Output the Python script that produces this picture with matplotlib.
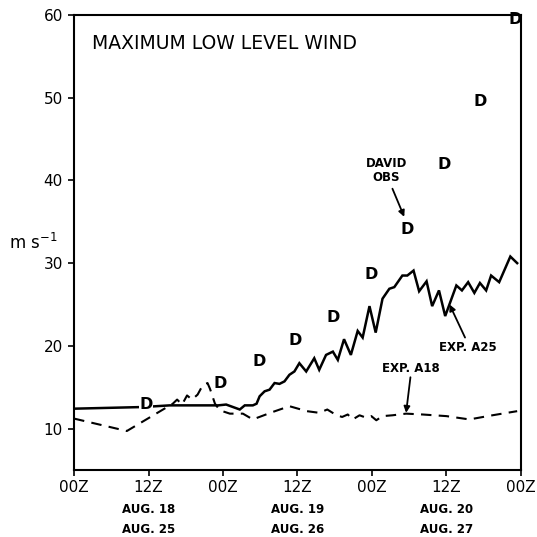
import matplotlib
matplotlib.use("Agg")
import matplotlib.pyplot as plt

# Observations of David (hours from 00Z Aug 18, m/s)
obs_hours = [11.6, 23.6, 29.9, 35.7, 41.7, 47.8, 53.7, 59.6, 65.4, 71.1]
obs_wind = [12.9, 15.5, 18.1, 20.7, 23.4, 28.6, 34.1, 41.9, 49.6, 59.5]

# Experiment A25 (solid)
a25_hours = [0.0, 11.1, 15.4, 23.2, 24.5, 26.7, 27.5, 28.8, 29.4, 29.9, 30.7, 31.5,
             32.3, 33.1, 33.9, 34.7, 35.5, 36.3, 37.4, 38.7, 39.5, 40.6, 41.7, 42.5,
             43.5, 44.6, 45.7, 46.5, 47.6, 48.6, 49.7, 50.8, 51.6, 52.9, 53.7, 54.7,
             55.6, 56.8, 57.7, 58.8, 59.8, 61.6, 62.5, 63.5, 64.5, 65.4, 66.4, 67.2,
             68.5, 70.3, 71.4]
a25_wind = [12.4, 12.6, 12.8, 12.8, 12.9, 12.3, 12.8, 12.8, 13.0, 13.9, 14.5, 14.7,
            15.5, 15.4, 15.7, 16.5, 16.9, 17.9, 16.9, 18.5, 17.1, 18.9, 19.3, 18.3,
            20.8, 18.9, 21.8, 21.0, 24.8, 21.6, 25.7, 26.9, 27.1, 28.5, 28.5, 29.1,
            26.6, 27.8, 24.8, 26.7, 23.6, 27.3, 26.7, 27.7, 26.4, 27.6, 26.7, 28.5,
            27.7, 30.8, 30.0]

# Experiment A18 (dashed)
a18_hours = [0.0, 8.5, 15.9, 16.6, 17.4, 18.2, 19.0, 19.9, 20.7, 21.5, 21.9, 22.7,
             23.5, 25.1, 27.2, 28.8, 32.0, 34.7, 37.5, 39.5, 40.8, 42.3, 43.2, 44.1,
             44.9, 46.0, 47.1, 47.9, 48.7, 49.7, 51.3, 53.5, 56.1, 60.0, 63.7, 67.4,
             71.4]
a18_wind = [11.2, 9.7, 13.0, 13.5, 12.9, 14.0, 13.5, 14.1, 15.2, 15.5, 14.8, 13.0,
            12.2, 11.8, 11.8, 11.1, 12.0, 12.7, 12.1, 11.9, 12.3, 11.6, 11.4, 11.7,
            11.1, 11.6, 11.3, 11.5, 11.0, 11.5, 11.6, 11.8, 11.7, 11.5, 11.1, 11.6,
            12.1]

x_ticks = [0, 12, 24, 36, 48, 60, 72]
x_tick_labels = ["00Z", "12Z", "00Z", "12Z", "00Z", "12Z", "00Z"]
date_positions = [12, 36, 60]
date_labels_1 = ["AUG. 18", "AUG. 19", "AUG. 20"]
date_labels_2 = ["AUG. 25", "AUG. 26", "AUG. 27"]
y_ticks = [10, 20, 30, 40, 50, 60]

plt.rcParams['font.family'] = ['DejaVu Sans']

fig = plt.figure(figsize=(5.37, 5.37), dpi=100)
ax = fig.add_axes([0.138, 0.125, 0.832, 0.847])

ax.plot(a25_hours, a25_wind, color="black", lw=1.8, solid_joinstyle="miter")
ax.plot(a18_hours, a18_wind, color="black", lw=1.5, linestyle=(0, (5, 3.5)))

for h, w in zip(obs_hours, obs_wind):
    ax.text(h, w, "D", ha="center", va="center", fontsize=11.5, fontweight="bold",
            color="black", bbox=dict(facecolor="white", edgecolor="none", pad=0.5)
            if h < 13 else None)

ax.set_xlim(0, 72)
ax.set_ylim(5, 60)
ax.set_xticks(x_ticks)
ax.set_xticklabels(x_tick_labels, fontsize=11)
ax.set_yticks(y_ticks)
ax.set_yticklabels([str(v) for v in y_ticks], fontsize=11)
ax.tick_params(direction="out", length=4, width=1.2, pad=4)
ax.tick_params(axis="x", pad=3)
for s in ax.spines.values():
    s.set_linewidth(1.5)

for pos, l1, l2 in zip(date_positions, date_labels_1, date_labels_2):
    ax.text(pos, -0.088, l1, transform=ax.get_xaxis_transform(), ha="center",
            va="center", fontsize=8.5, fontweight="bold")
    ax.text(pos, -0.132, l2, transform=ax.get_xaxis_transform(), ha="center",
            va="center", fontsize=8.5, fontweight="bold")

ax.text(-0.038, 0.5, "m s$^{-1}$", transform=ax.transAxes, ha="right", va="center",
        fontsize=12)

ax.text(0.04, 0.938, "MAXIMUM LOW LEVEL WIND", transform=ax.transAxes, ha="left",
        va="center", fontsize=13.5)

ax.text(50.3, 41.2, "DAVID\nOBS", ha="center", va="center", fontsize=8.5,
        fontweight="bold", linespacing=1.1)
ax.annotate("", xy=(53.2, 35.6), xytext=(51.3, 39.0),
            arrowprops=dict(arrowstyle="-|>", color="black", lw=1.3,
                            mutation_scale=9, shrinkA=0, shrinkB=0))

ax.text(63.5, 19.8, "EXP. A25", ha="center", va="center", fontsize=8.5,
        fontweight="bold")
ax.annotate("", xy=(60.5, 25.0), xytext=(63.0, 21.0),
            arrowprops=dict(arrowstyle="-|>", color="black", lw=1.3,
                            mutation_scale=9, shrinkA=0, shrinkB=0))

ax.text(54.3, 17.2, "EXP. A18", ha="center", va="center", fontsize=8.5,
        fontweight="bold")
ax.annotate("", xy=(53.5, 11.9), xytext=(54.2, 16.2),
            arrowprops=dict(arrowstyle="-|>", color="black", lw=1.3,
                            mutation_scale=9, shrinkA=0, shrinkB=0))

fig.savefig("out.png", dpi=100, facecolor="white")
